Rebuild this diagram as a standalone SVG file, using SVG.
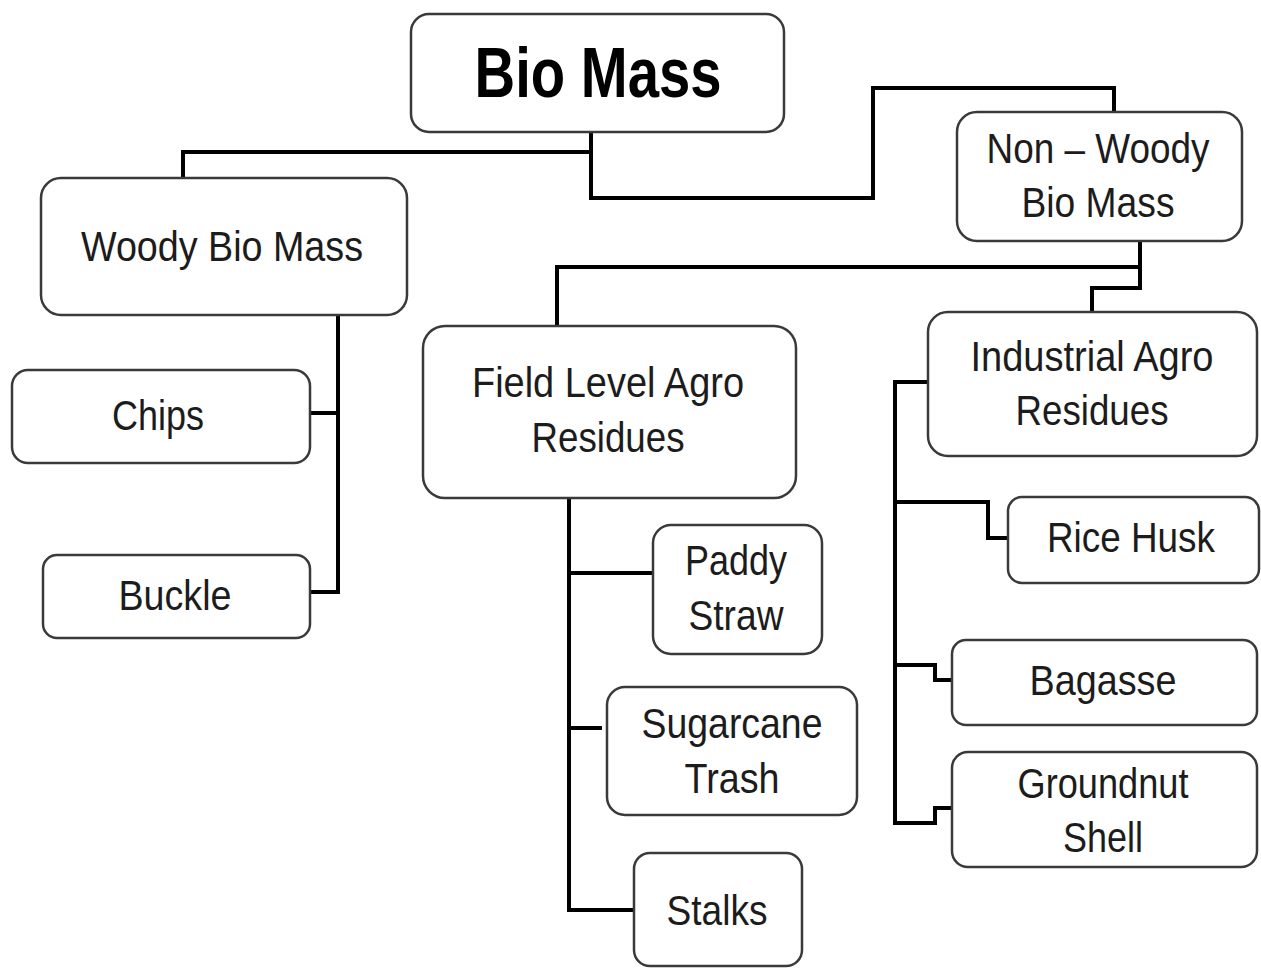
<svg xmlns="http://www.w3.org/2000/svg" width="1261" height="968" viewBox="0 0 1261 968">
<style>
.box{fill:#fff;stroke:#3a3a3a;stroke-width:2.5}
.t{font-family:"Liberation Sans",Arial,sans-serif;font-size:42px;fill:#1c1c1c;text-anchor:middle}
.tb{font-family:"Liberation Sans",Arial,sans-serif;font-size:70px;font-weight:bold;fill:#000;text-anchor:middle}
.c{fill:none;stroke:#000;stroke-width:4;stroke-linejoin:miter;stroke-linecap:square}
</style>
<rect width="1261" height="968" fill="#fff"/>
<g id="connectors">
<path class="c" d="M591,132 V198 H873 V88 H1114 V111"/>
<path class="c" d="M591,152 H183 V177"/>
<path class="c" d="M1140,242 V288 H1092 V312"/>
<path class="c" d="M1138,267 H557 V325"/>
<path class="c" d="M338,316 V592 H304 V610"/>
<path class="c" d="M311,413 H338"/>
<path class="c" d="M569,499 V910 H633"/>
<path class="c" d="M569,573 H652"/>
<path class="c" d="M569,728 H600"/>
<path class="c" d="M927,382 H895 V823 H935 V808 H951"/>
<path class="c" d="M895,502 H988 V538 H1007"/>
<path class="c" d="M895,665 H935 V680 H951"/>
</g>
<g id="biomass">
<rect class="box" x="411" y="14" width="373" height="118" rx="18"/>
<text class="tb" x="598" y="97" textLength="247" lengthAdjust="spacingAndGlyphs">Bio Mass</text>
</g>
<g id="woody">
<rect class="box" x="41" y="178" width="366" height="137" rx="20"/>
<text class="t" x="222" y="261" textLength="282" lengthAdjust="spacingAndGlyphs">Woody Bio Mass</text>
</g>
<g id="nonwoody">
<rect class="box" x="957" y="112" width="285" height="129" rx="20"/>
<text class="t" x="1098" y="163" textLength="223" lengthAdjust="spacingAndGlyphs">Non – Woody</text>
<text class="t" x="1098" y="217" textLength="153" lengthAdjust="spacingAndGlyphs">Bio Mass</text>
</g>
<g id="field">
<rect class="box" x="423" y="326" width="373" height="172" rx="22"/>
<text class="t" x="608" y="397" textLength="272" lengthAdjust="spacingAndGlyphs">Field Level Agro</text>
<text class="t" x="608" y="452" textLength="153" lengthAdjust="spacingAndGlyphs">Residues</text>
</g>
<g id="industrial">
<rect class="box" x="928" y="312" width="329" height="144" rx="20"/>
<text class="t" x="1092" y="371" textLength="243" lengthAdjust="spacingAndGlyphs">Industrial Agro</text>
<text class="t" x="1092" y="425" textLength="153" lengthAdjust="spacingAndGlyphs">Residues</text>
</g>
<g id="chips">
<rect class="box" x="12" y="370" width="298" height="93" rx="16"/>
<text class="t" x="158" y="430" textLength="92" lengthAdjust="spacingAndGlyphs">Chips</text>
</g>
<g id="buckle">
<rect class="box" x="43" y="555" width="267" height="83" rx="14"/>
<text class="t" x="175" y="610" textLength="113" lengthAdjust="spacingAndGlyphs">Buckle</text>
</g>
<g id="paddy">
<rect class="box" x="653" y="525" width="169" height="129" rx="18"/>
<text class="t" x="736" y="575" textLength="102" lengthAdjust="spacingAndGlyphs">Paddy</text>
<text class="t" x="736" y="630" textLength="95" lengthAdjust="spacingAndGlyphs">Straw</text>
</g>
<g id="sugarcane">
<rect class="box" x="607" y="687" width="250" height="128" rx="18"/>
<text class="t" x="732" y="738" textLength="181" lengthAdjust="spacingAndGlyphs">Sugarcane</text>
<text class="t" x="732" y="793" textLength="95" lengthAdjust="spacingAndGlyphs">Trash</text>
</g>
<g id="stalks">
<rect class="box" x="634" y="853" width="168" height="113" rx="16"/>
<text class="t" x="717" y="925" textLength="101" lengthAdjust="spacingAndGlyphs">Stalks</text>
</g>
<g id="ricehusk">
<rect class="box" x="1008" y="497" width="251" height="86" rx="14"/>
<text class="t" x="1131" y="552" textLength="168" lengthAdjust="spacingAndGlyphs">Rice Husk</text>
</g>
<g id="bagasse">
<rect class="box" x="952" y="640" width="305" height="85" rx="14"/>
<text class="t" x="1103" y="695" textLength="147" lengthAdjust="spacingAndGlyphs">Bagasse</text>
</g>
<g id="groundnut">
<rect class="box" x="952" y="752" width="305" height="115" rx="16"/>
<text class="t" x="1103" y="798" textLength="171" lengthAdjust="spacingAndGlyphs">Groundnut</text>
<text class="t" x="1103" y="852" textLength="80" lengthAdjust="spacingAndGlyphs">Shell</text>
</g>
</svg>
